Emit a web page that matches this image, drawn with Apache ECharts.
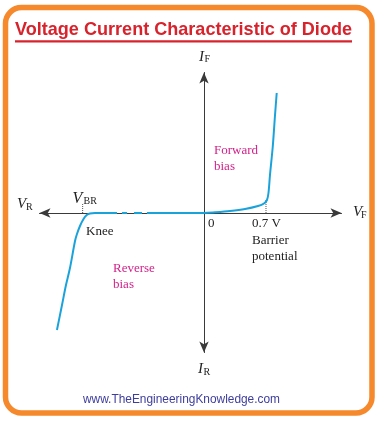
<!DOCTYPE html>
<html>
<head>
<meta charset="utf-8">
<script src="https://cdn.jsdelivr.net/npm/echarts@6/dist/echarts.min.js"></script>
<style>html,body{margin:0;padding:0;background:#fff;}#c{width:380px;height:421px;}</style>
</head>
<body>
<div id="c"></div>
<script>
// ---- data (volts on x, mA-like units on y; schematic) ----
var forwardCurve = [[0,0],[0.124,0.07],[0.294,0.2],[0.463,0.4],[0.610,0.7],[0.677,0.95],[0.711,1.3],[0.728,2.0],[0.745,3.8],[0.776,6.6],[0.802,9.8],[0.821,12.0]];
var reverseNear = [[0,0],[-0.644,0]];
var reverseDashA = [[-0.700,0],[-0.790,0]];
var reverseDashB = [[-0.869,0],[-0.926,0]];
var reverseKnee = [[-0.982,0],[-1.231,0],[-1.287,-0.05],[-1.324,-0.2],[-1.360,-0.6],[-1.400,-1.3],[-1.434,-2.1],[-1.456,-2.8],[-1.513,-5.5],[-1.558,-7.2],[-1.603,-9.2],[-1.660,-11.7]];
var barrierMarker = [[0.7,0],[0.7,1.3]];
var breakdownMarker = [[-1.37,0],[-1.37,0.9]];
var xRange = [-1.857, 1.5524];
var yRange = [-13.95, 14.05];

var titleText = 'Voltage Current Characteristic of Diode';
var footerText = 'www.TheEngineeringKnowledge.com';

function fitScale(text, font, target){
  var ctx = document.createElement('canvas').getContext('2d');
  ctx.font = font;
  return target / ctx.measureText(text).width;
}

var curveColor = '#1aa2db';
var axisColor = '#3a3a3a';
var magenta = '#d4218a';
var serif = '"Liberation Serif", "DejaVu Serif", serif';

var titleFont = 'bold 19px "Liberation Sans"';
var footerFont = '12px "Liberation Sans"';
var titleScale = fitScale(titleText, titleFont, 337);
var footerScale = fitScale(footerText, footerFont, 197);

function txt(text, x, y, opts){
  opts = opts || {};
  return {type:'text', x:x, y:y, z:10, style:{text:text, font:(opts.font || ('13px ' + serif)), fill:(opts.fill || '#222'), textAlign:(opts.align||'left'), textVerticalAlign:'middle'}};
}

function lineSeries(data, opts){
  opts = opts || {};
  return {type:'line', data:data, symbol:'none', smooth: opts.smooth || false, silent:true, z: opts.z || 3,
    lineStyle:{color: opts.color || curveColor, width: opts.width || 2, type: opts.type || 'solid'}};
}

var chart = echarts.init(document.getElementById('c'), null, {renderer:'canvas'});
chart.setOption({
  animation:false,
  backgroundColor:'#fff',
  grid:{left:39.5, right:38.5, top:72.5, bottom:68.5, containLabel:false},
  xAxis:{type:'value', min:xRange[0], max:xRange[1],
    axisLine:{onZero:true, symbol:['arrow','arrow'], symbolSize:[7,11], lineStyle:{color:axisColor, width:1}},
    axisTick:{show:false}, axisLabel:{show:false}, splitLine:{show:false}},
  yAxis:{type:'value', min:yRange[0], max:yRange[1],
    axisLine:{onZero:true, symbol:['arrow','arrow'], symbolSize:[7,11], lineStyle:{color:axisColor, width:1}},
    axisTick:{show:false}, axisLabel:{show:false}, splitLine:{show:false}},
  series:[
    lineSeries(forwardCurve, {smooth:0.3}),
    lineSeries(reverseNear),
    lineSeries(reverseDashA),
    lineSeries(reverseDashB),
    lineSeries(reverseKnee, {smooth:0.3}),
    lineSeries(barrierMarker, {color:'#555', width:1, type:'dotted', z:2}),
    lineSeries(breakdownMarker, {color:'#555', width:1, type:'dotted', z:2})
  ],
  graphic:[
    {type:'rect', z:20, shape:{x:5.5, y:7.5, width:366.5, height:405.5, r:16}, style:{fill:'none', stroke:'#f5892c', lineWidth:5.5}},
    {type:'text', x:15, y:29.5, scaleX:titleScale, z:10, style:{text:titleText, font:titleFont, fill:'#d8222c', textAlign:'left', textVerticalAlign:'middle'}},
    {type:'rect', z:10, shape:{x:15, y:40.2, width:337, height:2.4}, style:{fill:'#d8222c'}},
    {type:'text', x:181.5, y:400, scaleX:footerScale, z:10, style:{text:footerText, font:footerFont, fill:'#3d3d9e', textAlign:'center', textVerticalAlign:'middle'}},
    // axis names
    txt('V', 17, 204, {font:'italic 15px ' + serif}),
    txt('R', 26, 207, {font:'10px ' + serif}),
    txt('V', 353, 212, {font:'italic 15px ' + serif}),
    txt('F', 361, 215, {font:'10px ' + serif}),
    txt('I', 199, 57, {font:'italic 15px ' + serif}),
    txt('F', 204.5, 59.5, {font:'10px ' + serif}),
    txt('I', 198, 369.5, {font:'italic 15px ' + serif}),
    txt('R', 203.5, 372, {font:'10px ' + serif}),
    txt('V', 72.5, 198.5, {font:'italic 16px ' + serif}),
    txt('BR', 83.5, 201.5, {font:'10px ' + serif}),
    // annotations
    txt('Knee', 86, 232),
    txt('0', 208, 223.5),
    txt('0.7 V', 252, 224),
    txt('Barrier', 252, 241),
    txt('potential', 252, 257),
    txt('Forward', 214, 151, {fill:magenta}),
    txt('bias', 214, 167, {fill:magenta}),
    txt('Reverse', 113, 269, {fill:magenta}),
    txt('bias', 113, 285, {fill:magenta})
  ]
});
</script>
</body>
</html>
